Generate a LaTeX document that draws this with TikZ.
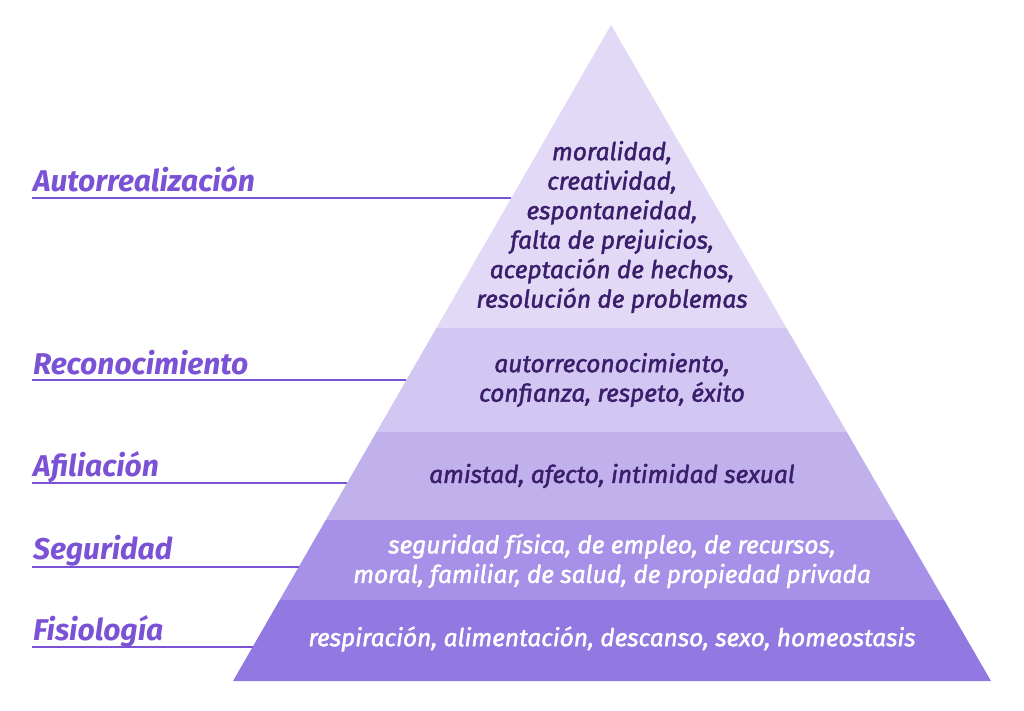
\documentclass[tikz,border=0pt]{standalone}
\usepackage{fontspec}
\setmainfont{Fira Sans}
\newfontfamily\medfont[BoldFont={Fira Sans Italic},BoldFeatures={FakeBold=1.8}]{Fira Sans Italic}
\begin{document}
\begin{tikzpicture}[x=1pt,y=-1pt,
  lbl/.style={anchor=base west,text=labc,font=\fontsize{30}{32}\selectfont\bfseries\itshape,inner sep=0},
  body/.style={align=center,font=\fontsize{24.5}{29.5}\selectfont\medfont\bfseries,inner sep=0},
  ln/.style={draw=labc,line width=1.3pt}]
\definecolor{labc}{HTML}{7B52D6}
\definecolor{c1}{HTML}{E1D9F6}
\definecolor{c2}{HTML}{D2C6F2}
\definecolor{c3}{HTML}{C0B1EC}
\definecolor{c4}{HTML}{A690E8}
\definecolor{c5}{HTML}{9279E2}
\definecolor{dk}{HTML}{3A1E6C}
\useasboundingbox (0,0) rectangle (1024,711);
\fill[white] (0,0) rectangle (1024,711);
\coordinate (apex) at (611,25);
\coordinate (bl) at (233,681);
\coordinate (br) at (991,681);
\begin{scope}
\clip (apex) -- (bl) -- (br) -- cycle;
\fill[c1] (0,0) rectangle (1024,328);
\fill[c2] (0,328) rectangle (1024,432);
\fill[c3] (0,432) rectangle (1024,520);
\fill[c4] (0,520) rectangle (1024,600);
\fill[c5] (0,600) rectangle (1024,711);
\end{scope}
\node[body,text=dk] (t1) at (612,227) {moralidad,\\creatividad,\\espontaneidad,\\falta de prejuicios,\\aceptación de hechos,\\resolución de problemas};
\node[body,text=dk] (t2) at (612,380) {autorreconocimiento,\\confianza, respeto, éxito};
\node[body,text=dk] (t3) at (612,476) {amistad, afecto, intimidad sexual};
\node[body,text=white] (t4) at (612,561) {seguridad física, de empleo, de recursos,\\moral, familiar, de salud, de propiedad privada};
\node[body,text=white] (t5) at (612,639) {respiración, alimentación, descanso, sexo, homeostasis};
\node[lbl] (l1) at (33,192) {Autorrealización};
\node[lbl] (l2) at (33,374) {Reconocimiento};
\node[lbl] (l3) at (33,476) {Afiliación};
\node[lbl] (l4) at (33,559) {Seguridad};
\node[lbl] (l5) at (33,640) {Fisiología};
\coordinate (e1) at (511,198); \coordinate (e2) at (406,380);
\coordinate (e3) at (347,483); \coordinate (e4) at (299,567);
\coordinate (e5) at (253,647);
\draw[ln] (32,198) -- (e1);
\draw[ln] (32,380) -- (e2);
\draw[ln] (32,483) -- (e3);
\draw[ln] (32,567) -- (e4);
\draw[ln] (32,647) -- (e5);
\end{tikzpicture}
\end{document}
